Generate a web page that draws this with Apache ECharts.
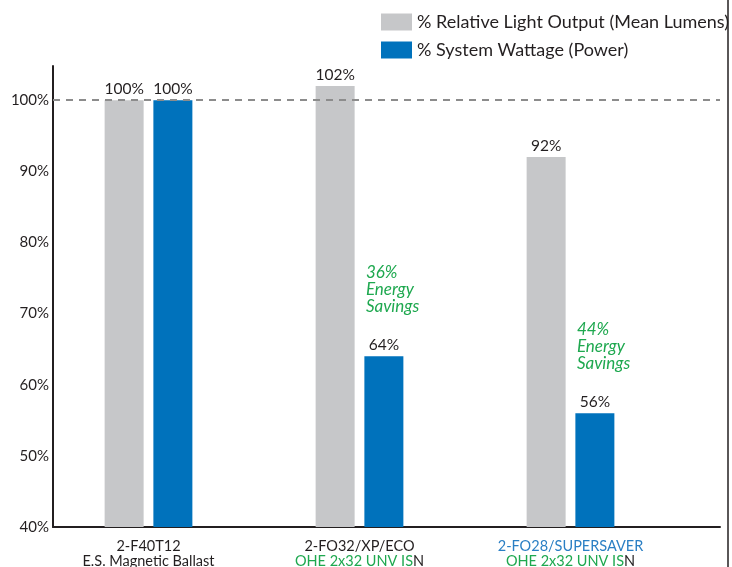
<!DOCTYPE html>
<html>
<head>
<meta charset="utf-8">
<script src="https://cdn.jsdelivr.net/npm/echarts@6/dist/echarts.min.js"></script>
<style>html,body{margin:0;padding:0;background:#fff;}#chart{width:732px;height:567px;}</style>
</head>
<body>
<div id="chart"></div>
<script>
const categories = ['2-F40T12', '2-FO32/XP/ECO', '2-FO28/SUPERSAVER'];
const ballasts = ['E.S. Magnetic Ballast', 'OHE 2x32 UNV IS', 'OHE 2x32 UNV IS'];
const ballastSuffix = ['', 'N', 'N'];
const lightOutput = [100, 102, 92];
const systemWattage = [100, 64, 56];
const energySavings = [null, 36, 44];
const seriesNames = ['% Relative Light Output (Mean Lumens)', '% System Wattage (Power)'];
const referenceLine = 100;

const DARK = '#231f20';
const GREEN = '#1ea84f';
const BLUE_TXT = '#2a7fc4';
const titleColor = [DARK, DARK, BLUE_TXT];
const ballastColor = [DARK, GREEN, GREEN];

const rich = { n: { color: DARK, fontSize: 14.5, lineHeight: 15 } };
categories.forEach((c, i) => {
  rich['t' + i] = { color: titleColor[i], fontSize: 14.5, lineHeight: 15 };
  rich['b' + i] = { color: ballastColor[i], fontSize: 14.5, lineHeight: 15 };
});

const chart = echarts.init(document.getElementById('chart'));
chart.setOption({
  animation: false,
  textStyle: { fontFamily: 'Lato' },
  legend: {
    data: seriesNames,
    orient: 'vertical',
    left: 381, top: 13, padding: 0,
    itemWidth: 31, itemHeight: 17, itemGap: 10,
    icon: 'rect',
    textStyle: { fontSize: 18, color: DARK }
  },
  grid: [
    { left: 53, right: 12, top: 66, bottom: 40, containLabel: false, outerBoundsMode: 'none' },
    { left: 43, right: 56, top: 66, bottom: 40, containLabel: false, outerBoundsMode: 'none' }
  ],
  xAxis: [
    { gridIndex: 0, type: 'value', min: 0, max: 1,
      axisLine: { show: true, lineStyle: { color: DARK, width: 2 } },
      axisTick: { show: false }, axisLabel: { show: false }, splitLine: { show: false } },
    { gridIndex: 1, type: 'category', data: categories,
      axisLine: { show: false }, axisTick: { show: false },
      axisLabel: { interval: 0, margin: 12,
        formatter: (v, i) => `{t${i}|${v}}\n{b${i}|${ballasts[i]}}` + (ballastSuffix[i] ? `{n|${ballastSuffix[i]}}` : ''),
        rich: rich } }
  ],
  yAxis: [
    { gridIndex: 0, type: 'value', min: 40, max: 104.8, interval: 10,
      axisLine: { show: true, lineStyle: { color: DARK, width: 2 } },
      axisTick: { show: false }, splitLine: { show: false },
      axisLabel: { margin: 4, fontSize: 15, color: DARK,
        formatter: v => (Math.abs(v % 10) < 1e-6 && v <= 100) ? v + '%' : '' } },
    { gridIndex: 1, type: 'value', min: 40, max: 104.8, interval: 10, show: false }
  ],
  graphic: [
    { type: 'line', shape: { x1: 728, y1: 0, x2: 728, y2: 567 }, style: { stroke: DARK, lineWidth: 1.5 } }
  ],
  series: [
    { type: 'line', xAxisIndex: 0, yAxisIndex: 0, data: [], silent: true,
      markLine: { silent: true, symbol: 'none', label: { show: false },
        lineStyle: { type: [7, 6], color: '#8c8c8c', width: 2 },
        data: [{ yAxis: referenceLine }] } },
    { name: seriesNames[0], type: 'bar', xAxisIndex: 1, yAxisIndex: 1, data: lightOutput,
      barWidth: 39, barGap: '25%', itemStyle: { color: '#c6c7c9' },
      label: { show: true, position: 'top', distance: 3, formatter: '{c}%', fontSize: 15.5, color: DARK } },
    { name: seriesNames[1], type: 'bar', xAxisIndex: 1, yAxisIndex: 1, data: systemWattage,
      barWidth: 39, barGap: '25%', itemStyle: { color: '#0072bc' },
      label: { show: true, position: 'top', distance: 3, formatter: '{c}%', fontSize: 15.5, color: DARK },
      markPoint: {
        symbol: 'circle', symbolSize: 0, silent: true,
        label: { show: true, position: [-18, -92], align: 'left', verticalAlign: 'top',
          fontStyle: 'italic', fontSize: 17, lineHeight: 17, color: GREEN,
          formatter: p => p.value + '%\nEnergy\nSavings' },
        data: energySavings.map((s, i) => s == null ? null : { coord: [i, systemWattage[i]], value: s }).filter(Boolean)
      } }
  ]
});
</script>
</body>
</html>
